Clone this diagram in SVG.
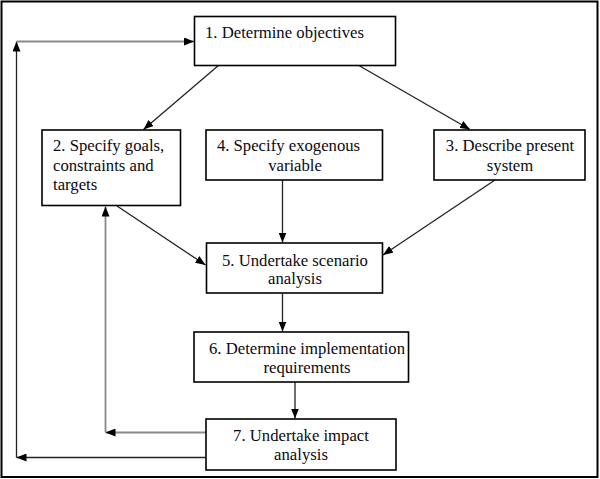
<svg xmlns="http://www.w3.org/2000/svg" width="600" height="479" viewBox="0 0 600 479">
<style>
.box{fill:#fff;stroke:#000;stroke-width:1.6}
.t{font-family:'Liberation Serif','Times New Roman',serif;font-size:16.7px;fill:#0a0a14}
.c{fill:none;stroke:#222;stroke-width:1.3}
.g{fill:none;stroke:#8a8a8a;stroke-width:1.8}
</style>
<defs>
<marker id="ah" markerUnits="userSpaceOnUse" markerWidth="10" markerHeight="8" refX="10" refY="4" orient="auto">
<path d="M0,0 L10,4 L0,8 z" fill="#000"/>
</marker>
</defs>
<rect x="0" y="0" width="600" height="479" fill="#fff"/>
<rect x="1.5" y="1.5" width="596" height="475.5" fill="none" stroke="#000" stroke-width="2"/>
<g id="connectors">
<path class="c" d="M219,65 L143.5,129.5" marker-end="url(#ah)"/>
<path class="c" d="M358,65 L470,129.5" marker-end="url(#ah)"/>
<path class="c" d="M282.5,180 L282.5,242.5" marker-end="url(#ah)"/>
<path class="c" d="M117,206 L205.5,265" marker-end="url(#ah)"/>
<path class="c" d="M495,180 L383,255" marker-end="url(#ah)"/>
<path class="c" d="M282.5,293 L282.5,331.5" marker-end="url(#ah)"/>
<path class="c" d="M295,382 L295,418.5" marker-end="url(#ah)"/>
<path class="g" d="M206,432.5 L105.5,432.5" marker-end="url(#ah)"/>
<path class="g" d="M105.5,432.5 L105.5,206.5" marker-end="url(#ah)"/>
<path class="c" d="M206,457.5 L16.5,457.5" marker-end="url(#ah)"/>
<path class="c" d="M16.5,457.5 L16.5,41.5" marker-end="url(#ah)"/>
<path class="g" d="M16.5,41.5 L194,41.5" marker-end="url(#ah)"/>
</g>
<g id="n1">
<rect class="box" x="194.5" y="16.5" width="201" height="49"/>
<text x="205" y="37.5" style="font-family:'Liberation Serif',serif;font-size:16.7px;fill:#0a0a14">1. Determine objectives</text>
</g>
<g id="n2">
<rect class="box" x="42" y="130" width="138.5" height="75.5"/>
<text class="t" x="53" y="151">2. Specify goals,</text>
<text class="t" x="53" y="170.5">constraints and</text>
<text class="t" x="53" y="190">targets</text>
</g>
<g id="n4">
<rect class="box" x="206" y="130" width="176.5" height="50"/>
<text class="t" x="288.5" y="151" text-anchor="middle">4. Specify exogenous</text>
<text class="t" x="295" y="170.5" text-anchor="middle">variable</text>
</g>
<g id="n3">
<rect class="box" x="434" y="130" width="151" height="50"/>
<text class="t" x="510" y="151" text-anchor="middle">3. Describe present</text>
<text class="t" x="510" y="170.5" text-anchor="middle">system</text>
</g>
<g id="n5">
<rect class="box" x="206.5" y="243" width="176" height="50"/>
<text class="t" x="295" y="265.5" text-anchor="middle">5. Undertake scenario</text>
<text class="t" x="295" y="284" text-anchor="middle">analysis</text>
</g>
<g id="n6">
<rect class="box" x="194" y="332" width="214.5" height="50"/>
<text class="t" x="307" y="353.5" text-anchor="middle">6. Determine implementation</text>
<text class="t" x="307" y="372.5" text-anchor="middle">requirements</text>
</g>
<g id="n7">
<rect class="box" x="206" y="419" width="190" height="51"/>
<text class="t" x="301" y="440.5" text-anchor="middle">7. Undertake impact</text>
<text class="t" x="301" y="459.5" text-anchor="middle">analysis</text>
</g>
</svg>
